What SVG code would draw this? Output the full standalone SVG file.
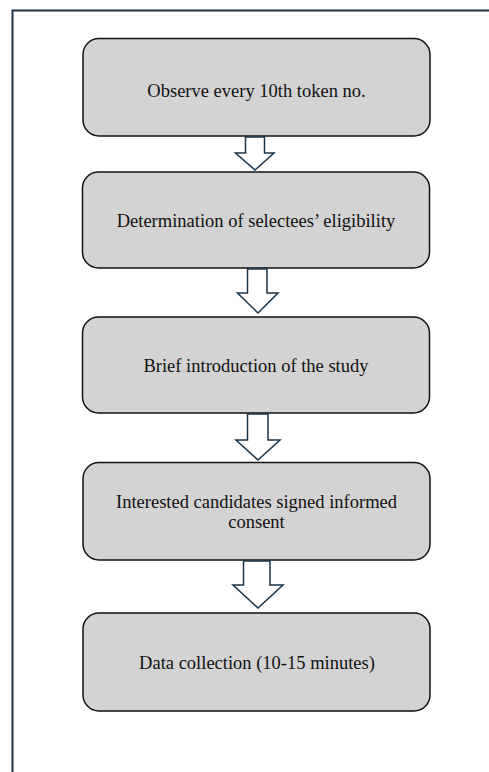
<svg xmlns="http://www.w3.org/2000/svg" width="489" height="772" viewBox="0 0 489 772">
<style>
.frame{fill:none;stroke:#1b3346;stroke-width:2}
.box{fill:#d3d3d3;stroke:#111;stroke-width:1.5}
.lbl{font-family:"Liberation Serif","Times New Roman",serif;font-size:18.5px;fill:#111;text-anchor:middle}
.arr{fill:#fff;stroke:#1b3346;stroke-width:1.5;stroke-linejoin:miter}
</style>
<rect width="489" height="772" fill="#fff"/>
<path class="frame" d="M12.5,772 V10.5 H489"/>
<g id="n1"><rect class="box" x="83" y="38.5" width="347" height="97.5" rx="16"/><text class="lbl" x="256.5" y="97">Observe every 10th token no.</text></g>
<g id="n2"><rect class="box" x="82.5" y="172" width="347" height="96" rx="16"/><text class="lbl" x="256" y="227">Determination of selectees’ eligibility</text></g>
<g id="n3"><rect class="box" x="82.5" y="317" width="347" height="96" rx="16"/><text class="lbl" x="256" y="372">Brief introduction of the study</text></g>
<g id="n4"><rect class="box" x="83" y="462.5" width="347" height="97.5" rx="16"/><text class="lbl" x="256.5" y="508">Interested candidates signed informed</text><text class="lbl" x="256.5" y="528">consent</text></g>
<g id="n5"><rect class="box" x="83" y="613" width="347" height="98" rx="16"/><text class="lbl" x="257" y="669">Data collection (10-15 minutes)</text></g>
<g id="connectors">
<path class="arr" d="M245.5,137 H264.5 V153 H274 L255,170 L235.5,153 H245.5 Z"/>
<path class="arr" d="M247.5,269 H267 V293 H278 L258,313 L237.5,293 H247.5 Z"/>
<path class="arr" d="M247.5,414 H268 V440 H280 L258,460 L236,440 H247.5 Z"/>
<path class="arr" d="M243.5,561 H270 V585 H283 L258,608 L233,585 H243.5 Z"/>
</g>
</svg>
